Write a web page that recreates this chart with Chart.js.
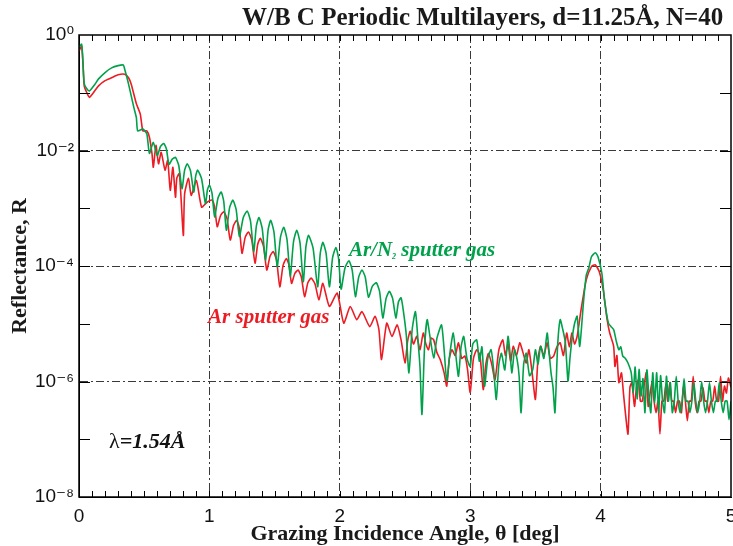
<!DOCTYPE html>
<html>
<head>
<meta charset="utf-8">
<script src="https://cdn.jsdelivr.net/npm/chart.js@4.4.1/dist/chart.umd.min.js"></script>
<style>
  html, body { margin: 0; padding: 0; background: #fff; }
  #wrap { width: 733px; height: 546px; }
</style>
</head>
<body>
<div id="wrap"><canvas id="c" width="733" height="546"></canvas></div>
<script>
// W/B4C periodic multilayers, X-ray reflectivity
const titleText = 'W/B C Periodic Multilayers, d=11.25Å, N=40'
const xTitle = 'Grazing Incidence Angle, θ [deg]'
const yTitle = 'Reflectance, R'
const greenLabel = ['Ar/N', '2', ' sputter gas']
const redLabel = 'Ar sputter gas'
const lambdaLabel = ['λ', '=1.54Å']

const xTicks = [0, 1, 2, 3, 4, 5]
const yDecades = [-8, -7, -6, -5, -4, -3, -2, -1, 0]
const yLabelled = [-8, -6, -4, -2, 0]
const gridX = [1, 2, 3, 4]
const gridY = [-6, -4, -2]

// Ar/N2 sputter gas (green): [angle deg, log10 R]
const arN2Points = [
  [0.00, -0.21], [0.02, -0.16], [0.03, -0.45], [0.04, -0.84], [0.06, -0.93], [0.08, -0.97], [0.12, -0.86], [0.15, -0.76], [0.20, -0.65], [0.25, -0.57],
  [0.30, -0.53], [0.34, -0.52], [0.35, -0.59], [0.38, -0.85], [0.42, -1.25], [0.44, -1.43], [0.45, -1.66], [0.49, -1.63], [0.52, -1.71], [0.54, -2.05],
  [0.57, -1.86], [0.60, -2.09], [0.625, -1.93], [0.65, -1.88], [0.67, -1.97], [0.69, -2.24], [0.715, -2.15], [0.74, -2.12], [0.765, -2.26], [0.79, -2.66],
  [0.81, -2.34], [0.83, -2.23], [0.855, -2.35], [0.88, -2.72], [0.895, -2.44], [0.91, -2.34], [0.94, -2.49], [0.97, -2.92], [0.985, -2.68], [1.00, -2.60],
  [1.02, -2.74], [1.04, -3.15], [1.065, -2.83], [1.09, -2.72], [1.11, -2.88], [1.13, -3.38], [1.155, -2.99], [1.18, -2.86], [1.205, -3.02], [1.23, -3.49],
  [1.26, -3.16], [1.29, -3.05], [1.315, -3.22], [1.34, -3.75], [1.36, -3.31], [1.38, -3.16], [1.405, -3.35], [1.43, -3.90], [1.45, -3.38], [1.47, -3.21],
  [1.495, -3.41], [1.52, -4.01], [1.545, -3.50], [1.57, -3.33], [1.595, -3.54], [1.62, -4.18], [1.645, -3.58], [1.67, -3.38], [1.695, -3.60], [1.72, -4.27],
  [1.74, -3.67], [1.76, -3.47], [1.795, -3.69], [1.83, -4.36], [1.85, -3.78], [1.87, -3.59], [1.895, -3.78], [1.92, -4.36], [1.945, -3.85], [1.97, -3.68],
  [1.99, -3.86], [2.01, -4.40], [2.04, -4.03], [2.07, -3.91], [2.095, -4.07], [2.12, -4.53], [2.145, -4.19], [2.17, -4.07], [2.195, -4.19], [2.22, -4.54],
  [2.25, -4.35], [2.28, -4.29], [2.305, -4.44], [2.33, -4.90], [2.355, -4.56], [2.38, -4.44], [2.405, -4.56], [2.43, -4.90], [2.45, -4.62], [2.47, -4.55],
  [2.49, -4.82], [2.51, -5.20], [2.53, -5.85], [2.555, -5.10], [2.58, -4.79], [2.60, -5.30], [2.615, -5.75], [2.63, -6.57], [2.65, -5.40], [2.67, -4.93],
  [2.69, -5.20], [2.72, -5.59], [2.745, -5.25], [2.78, -5.02], [2.80, -5.45], [2.82, -5.99], [2.845, -5.50], [2.87, -5.16], [2.89, -5.55], [2.91, -5.91],
  [2.93, -5.40], [2.95, -5.22], [2.975, -5.60], [3.00, -5.74], [3.02, -5.35], [3.05, -5.28], [3.07, -5.65], [3.09, -5.40], [3.11, -6.08], [3.135, -5.60],
  [3.16, -5.45], [3.18, -5.80], [3.20, -6.31], [3.22, -5.70], [3.24, -5.51], [3.265, -5.80], [3.29, -5.22], [3.305, -5.50], [3.32, -5.85], [3.34, -5.45],
  [3.36, -5.62], [3.375, -5.90], [3.39, -6.54], [3.41, -5.70], [3.43, -5.51], [3.455, -5.90], [3.48, -5.79], [3.50, -5.45], [3.52, -5.70], [3.54, -5.39],
  [3.565, -5.60], [3.59, -5.16], [3.605, -5.50], [3.62, -5.85], [3.635, -6.10], [3.65, -6.54], [3.67, -5.40], [3.69, -4.93], [3.71, -5.10], [3.73, -5.33],
  [3.75, -5.99], [3.765, -5.60], [3.78, -5.28], [3.80, -5.00], [3.82, -4.87], [3.84, -5.39], [3.87, -4.59], [3.89, -4.16], [3.91, -4.03], [3.93, -3.84],
  [3.96, -3.77], [3.98, -3.84], [4.01, -4.13], [4.03, -4.59], [4.06, -4.99], [4.08, -5.05], [4.10, -5.10], [4.12, -5.30], [4.14, -5.45], [4.155, -5.40],
  [4.17, -5.56], [4.19, -5.60], [4.21, -5.68], [4.235, -5.85], [4.25, -6.19], [4.265, -5.75], [4.28, -6.30], [4.295, -5.79], [4.31, -6.25], [4.325, -5.95],
  [4.34, -6.54], [4.355, -5.80], [4.37, -6.25], [4.385, -6.54], [4.40, -5.85], [4.415, -6.37], [4.43, -5.85], [4.445, -6.54], [4.46, -5.90], [4.475, -6.34],
  [4.49, -6.54], [4.505, -5.91], [4.52, -6.34], [4.535, -6.02], [4.55, -6.54], [4.565, -6.34], [4.58, -5.91], [4.595, -6.34], [4.61, -6.54], [4.625, -6.34],
  [4.64, -5.95], [4.655, -6.34], [4.67, -6.34], [4.685, -6.54], [4.70, -6.34], [4.715, -6.02], [4.73, -6.34], [4.745, -6.54], [4.76, -6.34], [4.775, -6.00],
  [4.79, -6.34], [4.805, -6.54], [4.82, -6.34], [4.835, -6.02], [4.85, -6.34], [4.865, -6.54], [4.88, -6.34], [4.895, -6.34], [4.91, -6.02], [4.925, -6.34],
  [4.94, -6.54], [4.955, -6.34], [4.97, -6.34], [4.985, -6.66], [5.00, -6.34]
]

// Ar sputter gas (red): [angle deg, log10 R]
const arPoints = [
  [0.00, -0.28], [0.02, -0.19], [0.03, -0.48], [0.04, -0.88], [0.06, -1.00], [0.08, -1.08], [0.12, -0.97], [0.15, -0.88], [0.20, -0.79], [0.25, -0.74],
  [0.30, -0.69], [0.35, -0.68], [0.38, -0.74], [0.40, -0.85], [0.44, -1.19], [0.47, -1.37], [0.49, -1.66], [0.52, -1.66], [0.54, -1.77], [0.56, -2.06],
  [0.57, -2.29], [0.59, -1.91], [0.61, -2.23], [0.63, -2.03], [0.66, -2.34], [0.68, -2.17], [0.70, -2.69], [0.72, -2.29], [0.74, -2.81], [0.75, -2.48],
  [0.77, -2.40], [0.80, -3.47], [0.81, -2.75], [0.84, -2.48], [0.86, -2.78], [0.90, -2.52], [0.94, -2.98], [0.98, -2.90], [1.02, -2.86], [1.04, -2.98],
  [1.06, -3.32], [1.085, -3.13], [1.11, -3.06], [1.135, -3.18], [1.16, -3.55], [1.185, -3.30], [1.21, -3.21], [1.23, -3.35], [1.25, -3.78], [1.275, -3.50],
  [1.30, -3.41], [1.325, -3.55], [1.35, -3.95], [1.37, -3.63], [1.39, -3.52], [1.415, -3.66], [1.44, -4.07], [1.465, -3.83], [1.49, -3.75], [1.515, -3.90],
  [1.54, -4.36], [1.565, -3.99], [1.59, -3.87], [1.61, -3.98], [1.63, -4.30], [1.655, -4.13], [1.68, -4.07], [1.705, -4.19], [1.73, -4.53], [1.755, -4.29],
  [1.78, -4.21], [1.81, -4.31], [1.84, -4.59], [1.87, -4.30], [1.92, -4.70], [1.98, -4.47], [2.03, -4.99], [2.08, -4.70], [2.13, -4.93], [2.17, -4.79],
  [2.23, -5.05], [2.27, -4.87], [2.30, -5.10], [2.32, -5.62], [2.36, -4.99], [2.40, -5.22], [2.44, -5.02], [2.47, -5.28], [2.50, -5.68], [2.52, -5.30],
  [2.54, -5.13], [2.565, -5.35], [2.59, -5.22], [2.615, -5.45], [2.64, -5.16], [2.66, -5.35], [2.68, -5.45], [2.70, -5.25], [2.72, -5.28], [2.745, -5.50],
  [2.77, -5.62], [2.80, -5.85], [2.82, -6.08], [2.84, -5.60], [2.86, -5.45], [2.885, -5.55], [2.91, -5.33], [2.935, -5.60], [2.96, -5.56], [2.98, -5.80],
  [3.00, -6.19], [3.025, -5.60], [3.05, -5.45], [3.075, -5.55], [3.10, -6.14], [3.12, -5.70], [3.14, -5.51], [3.165, -5.70], [3.19, -5.97], [3.22, -5.45],
  [3.25, -5.28], [3.27, -5.55], [3.29, -5.35], [3.31, -5.65], [3.33, -5.39], [3.355, -5.55], [3.38, -5.33], [3.405, -5.50], [3.43, -5.68], [3.45, -5.45],
  [3.475, -5.85], [3.50, -6.31], [3.52, -5.60], [3.54, -5.39], [3.565, -5.55], [3.59, -5.33], [3.615, -5.60], [3.64, -5.56], [3.665, -5.40], [3.69, -5.33],
  [3.715, -5.55], [3.74, -5.16], [3.76, -5.40], [3.78, -5.16], [3.80, -5.35], [3.82, -5.22], [3.85, -4.76], [3.89, -4.24], [3.93, -4.01], [3.96, -3.98],
  [3.99, -4.10], [4.02, -4.41], [4.05, -4.93], [4.07, -5.16], [4.10, -5.39], [4.11, -5.74], [4.125, -5.55], [4.14, -6.02], [4.16, -5.85], [4.175, -6.20],
  [4.19, -6.54], [4.21, -6.91], [4.225, -6.10], [4.24, -6.02], [4.26, -6.43], [4.275, -6.10], [4.29, -5.97], [4.305, -6.34], [4.32, -6.34], [4.335, -6.05],
  [4.35, -5.85], [4.365, -6.43], [4.38, -6.20], [4.395, -6.02], [4.41, -6.34], [4.425, -6.54], [4.44, -6.34], [4.455, -6.91], [4.47, -6.34], [4.485, -6.34],
  [4.50, -6.05], [4.515, -6.34], [4.53, -6.02], [4.545, -6.34], [4.56, -6.34], [4.575, -6.54], [4.59, -6.34], [4.605, -6.34], [4.62, -6.54], [4.635, -6.10],
  [4.65, -6.34], [4.665, -6.68], [4.68, -6.34], [4.695, -6.34], [4.71, -5.91], [4.725, -6.34], [4.74, -6.54], [4.755, -6.34], [4.77, -6.34], [4.785, -6.10],
  [4.80, -6.34], [4.815, -6.34], [4.83, -6.54], [4.845, -6.34], [4.86, -6.34], [4.875, -6.08], [4.89, -6.34], [4.905, -6.34], [4.92, -5.91], [4.935, -6.34],
  [4.95, -6.08], [4.965, -6.20], [4.98, -5.94], [5.00, -6.10]
]

const GREEN = '#00a14b'
const RED = '#ec1c24'
const GRID = '#3a3a3a'
const SANS = '"Liberation Sans", "DejaVu Sans", sans-serif'
const SERIF = '"Liberation Serif", "DejaVu Serif", serif'

const sup = { '0': '⁰', '1': '¹', '2': '²', '3': '³', '4': '⁴', '5': '⁵', '6': '⁶', '7': '⁷', '8': '⁸', '9': '⁹', '-': '⁻' }
const pow10Label = e => '10' + String(e).split('').map(c => sup[c]).join('')

const toPoints = pts => pts.map(p => ({ x: p[0], y: Math.pow(10, p[1]) }))

const decorations = {
  id: 'decorations',
  afterDraw(chart) {
    const { ctx, chartArea: a, scales: { x, y } } = chart
    ctx.save()

    // inward minor ticks on all four sides
    ctx.strokeStyle = '#000'
    ctx.lineWidth = 1
    ctx.beginPath()
    for (let i = 1; i < 50; i++) {
      const px = Math.round(x.getPixelForValue(i / 10)) + 0.5
      ctx.moveTo(px, a.top); ctx.lineTo(px, a.top + 6)
      ctx.moveTo(px, a.bottom); ctx.lineTo(px, a.bottom - 6)
    }
    yDecades.forEach(e => {
      if (e === 0 || e === -8) return
      const py = Math.round(y.getPixelForValue(Math.pow(10, e))) + 0.5
      ctx.moveTo(a.left, py); ctx.lineTo(a.left + 11, py)
      ctx.moveTo(a.right, py); ctx.lineTo(a.right - 11, py)
    })
    ctx.stroke()

    ctx.lineWidth = 1.5
    ctx.strokeRect(a.left, a.top, a.right - a.left, a.bottom - a.top)

    // title
    ctx.fillStyle = '#1a1a1a'
    ctx.textBaseline = 'alphabetic'
    ctx.textAlign = 'left'
    ctx.font = 'bold 25px ' + SERIF
    ctx.fillText(titleText, 242, 25)

    // series labels
    let gx = x.getPixelForValue(2.07)
    const gy = y.getPixelForValue(Math.pow(10, -3.83))
    ctx.fillStyle = GREEN
    ctx.font = 'italic bold 21px ' + SERIF
    ctx.fillText(greenLabel[0], gx, gy)
    gx += ctx.measureText(greenLabel[0]).width
    ctx.font = 'italic bold 8px ' + SERIF
    ctx.fillText(greenLabel[1], gx, gy + 3)
    gx += ctx.measureText(greenLabel[1]).width
    ctx.font = 'italic bold 21px ' + SERIF
    ctx.fillText(greenLabel[2], gx, gy)

    ctx.fillStyle = RED
    ctx.fillText(redLabel, x.getPixelForValue(0.99), y.getPixelForValue(Math.pow(10, -4.98)))

    let lx = x.getPixelForValue(0.23)
    const ly = y.getPixelForValue(Math.pow(10, -7.15))
    ctx.fillStyle = '#111'
    ctx.font = '22px ' + SERIF
    ctx.fillText(lambdaLabel[0], lx, ly)
    lx += ctx.measureText(lambdaLabel[0]).width
    ctx.font = 'italic bold 22px ' + SERIF
    ctx.fillText(lambdaLabel[1], lx, ly)

    ctx.restore()
  }
}

new Chart(document.getElementById('c'), {
  type: 'line',
  data: {
    datasets: [
      {
        label: 'Ar/N2 sputter gas',
        data: toPoints(arN2Points),
        borderColor: GREEN,
        borderWidth: 1.6,
        pointRadius: 0,
        tension: 0.2
      },
      {
        label: 'Ar sputter gas',
        data: toPoints(arPoints),
        borderColor: RED,
        borderWidth: 1.6,
        pointRadius: 0,
        tension: 0.2
      }
    ]
  },
  options: {
    responsive: false,
    animation: false,
    devicePixelRatio: 1,
    layout: { padding: { top: 35, right: 2, left: 0, bottom: 0 } },
    plugins: {
      legend: { display: false },
      tooltip: { enabled: false },
      title: { display: false }
    },
    scales: {
      x: {
        type: 'linear',
        min: 0,
        max: 5,
        afterBuildTicks: s => { s.ticks = xTicks.map(v => ({ value: v })) },
        afterFit: s => { s.height = 49; s.paddingLeft = 0; s.paddingRight = 0 },
        ticks: {
          color: '#111',
          padding: 8,
          maxRotation: 0,
          font: { family: SANS, size: 19 }
        },
        grid: {
          drawTicks: false,
          lineWidth: 1,
          color: c => gridX.includes(c.tick && c.tick.value) ? GRID : 'rgba(0,0,0,0)'
        },
        border: { display: true, color: '#000', width: 1, dash: [8, 3, 2, 3] },
        title: {
          display: true,
          text: xTitle,
          color: '#1a1a1a',
          padding: { top: 0, bottom: 1 },
          font: { family: SERIF, size: 22, weight: 'bold', lineHeight: 1 }
        }
      },
      y: {
        type: 'logarithmic',
        min: 1e-8,
        max: 1,
        afterBuildTicks: s => { s.ticks = yDecades.map(e => ({ value: Math.pow(10, e) })) },
        afterFit: s => { s.width = 79; s.paddingTop = 0; s.paddingBottom = 0 },
        ticks: {
          color: '#111',
          padding: 5,
          autoSkip: false,
          font: { family: SANS, size: 19 },
          callback: v => {
            const e = Math.round(Math.log10(v))
            return yLabelled.includes(e) ? pow10Label(e) : ''
          }
        },
        grid: {
          drawTicks: false,
          lineWidth: 1,
          color: c => {
            if (!c.tick) return 'rgba(0,0,0,0)'
            const e = Math.round(Math.log10(c.tick.value))
            return gridY.includes(e) ? GRID : 'rgba(0,0,0,0)'
          }
        },
        border: { display: true, color: '#000', width: 1, dash: [8, 3, 2, 3] },
        title: {
          display: true,
          text: yTitle,
          color: '#1a1a1a',
          padding: { top: 7, bottom: 0 },
          font: { family: SERIF, size: 22, weight: 'bold' }
        }
      }
    }
  },
  plugins: [decorations]
})
</script>
</body>
</html>
